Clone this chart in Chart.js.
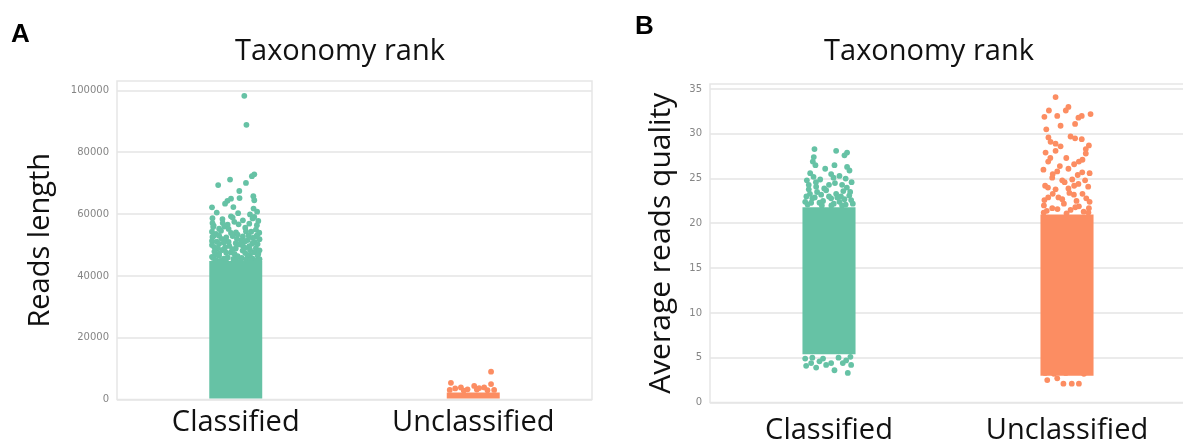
<!DOCTYPE html>
<html>
<head>
<meta charset="utf-8">
<script src="https://cdn.jsdelivr.net/npm/chart.js@4.4.1/dist/chart.umd.min.js"></script>
<style>
  body { margin: 0; background: #fff; }
  #page { position: relative; width: 1183px; height: 443px; overflow: hidden; }
  .panel { position: absolute; top: 0; }
  .title { position: absolute; top: 34px; transform: translateX(-50%); font-family: 'Open Sans'; font-size: 29px; line-height: 1; color: #111; white-space: nowrap; }
  .tag { position: absolute; font-family: 'Liberation Sans'; font-weight: bold; font-size: 26px; line-height: 1; color: #000; }
</style>
</head>
<body>
<div id="page">
  <canvas id="chartA" class="panel" style="left:0" width="600" height="443"></canvas>
  <canvas id="chartB" class="panel" style="left:600px" width="590" height="443"></canvas>
  <div class="tag" style="left:11px;top:20px">A</div>
  <div class="tag" style="left:635px;top:12px">B</div>
  <div class="title" style="left:340px">Taxonomy rank</div>
  <div class="title" style="left:929px">Taxonomy rank</div>
</div>
<script>
const categories = ['Classified', 'Unclassified'];
const lengthTicks = [0, 20000, 40000, 60000, 80000, 100000];
const qualityTicks = [0, 5, 10, 15, 20, 25, 30, 35];

// solid part of each strip, [low, high]
const lengthCore = [[0, 44800], [0, 2300]];
const qualityCore = [[5.4, 21.8], [3.0, 21.0]];

// loose points around the solid part: [jitter, value]
const lengthClassified = [
  [0.036, 98300], [0.045, 88900],
  [0.078, 72900], [0.068, 72300], [-0.024, 71200], [0.043, 70100], [-0.074, 69400],
  [0.015, 67500], [0.074, 65800], [0.016, 65200], [-0.020, 65000], [0.078, 64500], [-0.035, 64300], [-0.045, 63400],
  [-0.010, 62300], [-0.100, 62200], [0.075, 61800], [0.060, 59900], [-0.020, 59300], [0.078, 59100],
  [-0.080, 60500], [0.090, 60800], [0.010, 60300],
  [-0.098, 58700], [-0.056, 58400], [-0.013, 58900], [0.071, 58600], [0.095, 57800], [0.030, 58000],
  [-0.098, 57100], [-0.055, 57100], [-0.006, 57500], [0.089, 56400], [-0.093, 56300], [-0.034, 56600], [0.057, 56900],
  [-0.095, 55800], [-0.048, 56000], [0.012, 56700], [0.085, 55000], [-0.030, 55200], [0.040, 55600], [-0.070, 55300],
  [-0.100, 54300], [-0.062, 54600], [0.001, 54100], [0.043, 54400], [0.099, 54000], [-0.020, 53900], [0.065, 54300],
  [-0.083, 53600], [0.008, 53400], [0.054, 53100], [-0.040, 52500], [-0.070, 53000], [0.030, 52800], [0.090, 53200],
  [-0.092, 53000], [0.085, 52700],
  [-0.098, 52600], [-0.048, 51800], [-0.013, 52900], [0.022, 51500], [0.071, 52300], [0.100, 51900],
  [-0.060, 52000], [0.005, 52000], [0.050, 51600], [-0.100, 51300],
  [-0.080, 51100], [-0.030, 51000], [0.040, 51200], [0.080, 50900], [-0.050, 50800], [0.000, 50600], [0.070, 50500],
  [-0.100, 50000], [-0.070, 50400], [-0.027, 49700], [0.015, 50200], [0.057, 49600], [0.092, 50300], [0.030, 49800],
  [-0.075, 49000], [-0.045, 49200], [0.000, 48900], [0.040, 49100], [0.085, 49000], [-0.090, 49300],
  [-0.090, 47900], [-0.056, 48400], [-0.020, 47600], [0.029, 48200], [0.078, 47700], [0.100, 48300],
  [-0.015, 48700], [0.060, 48500],
  [-0.085, 47000], [-0.005, 47100], [0.060, 46900], [0.095, 47200], [-0.070, 47300], [-0.040, 47500], [0.040, 47400],
  [-0.100, 46200], [-0.070, 46500], [-0.034, 46000], [0.008, 46400], [0.050, 46100], [0.092, 46600],
  [-0.050, 45600], [0.025, 45800], [0.070, 45700], [-0.095, 45800], [-0.010, 45500], [0.100, 45400],
  [-0.084, 45200], [-0.041, 45400], [0.001, 45100], [0.043, 45300], [0.085, 45000],
  [-0.065, 44900], [0.020, 44800], [0.060, 45000]
];
const lengthUnclassified = [
  [-0.094, 5400], [0.075, 9000], [0.075, 5000], [-0.052, 3900], [0.004, 4400], [0.046, 3900],
  [-0.076, 3600], [-0.024, 3300], [0.025, 3700], [0.088, 3100], [-0.099, 3100], [0.060, 3000],
  [-0.040, 2900], [0.015, 3200]
];
const qualityClassified = [
  [-0.061, 28.3], [0.030, 28.1], [0.076, 27.9], [0.065, 27.6], [-0.064, 27.4], [-0.068, 26.9],
  [-0.057, 26.5], [0.023, 26.5], [-0.016, 26.1], [0.076, 26.3], [0.086, 25.9], [-0.079, 25.6],
  [0.009, 25.5], [0.044, 25.3], [-0.093, 24.8], [-0.037, 24.9], [0.019, 25.1], [0.000, 24.3],
  [-0.054, 24.1], [0.055, 24.3], [-0.085, 23.8], [-0.012, 23.7], [0.089, 23.5], [0.030, 23.3],
  [-0.033, 23.2], [-0.070, 22.8], [0.009, 22.8], [0.093, 22.6], [-0.100, 22.4], [0.044, 22.4],
  [-0.090, 22.1], [-0.040, 22.3], [0.020, 22.2], [0.070, 22.1], [-0.060, 22.9], [0.050, 23.0],
  [-0.020, 23.9], [0.075, 24.0], [0.100, 22.2], [-0.080, 23.3], [0.065, 22.7], [-0.050, 23.5],
  [-0.095, 23.0], [-0.025, 22.5], [0.035, 22.9], [0.085, 23.1], [-0.075, 22.3], [0.000, 23.0],
  [0.060, 23.6], [-0.055, 24.6], [0.025, 24.5], [-0.085, 24.3], [0.095, 24.6], [0.010, 22.0],
  [-0.030, 22.0], [0.055, 22.0], [-0.065, 25.2], [0.070, 25.0],
  [0.079, 3.3], [0.023, 3.6], [-0.054, 3.9], [-0.096, 4.1], [-0.075, 4.4], [-0.012, 4.2],
  [0.058, 4.4], [0.093, 4.2], [-0.040, 4.6], [-0.100, 4.9], [0.072, 4.7], [0.009, 4.4],
  [-0.070, 5.0], [0.040, 5.0], [-0.025, 4.9], [0.090, 5.1]
];
const qualityUnclassified = [
  [-0.048, 34.1], [0.006, 33.0], [-0.005, 32.6], [-0.076, 32.6], [0.099, 32.2], [-0.095, 31.9],
  [-0.041, 32.0], [0.062, 32.0], [0.048, 31.8], [0.034, 31.1], [-0.027, 30.9], [-0.087, 30.5],
  [0.015, 29.7], [0.034, 29.5], [-0.078, 29.6], [0.062, 29.4], [-0.069, 29.1], [-0.048, 28.9],
  [0.092, 28.7], [-0.027, 28.6], [0.079, 28.3], [-0.090, 27.9], [-0.048, 28.1], [0.079, 27.8],
  [-0.003, 27.3], [-0.079, 26.9], [0.050, 26.9], [-0.099, 26.0], [0.006, 26.1], [-0.041, 25.8],
  [0.064, 25.7], [-0.062, 25.1], [0.022, 24.9], [0.076, 24.8], [-0.020, 24.8], [-0.092, 24.2],
  [-0.048, 23.8], [0.006, 23.9], [0.048, 24.4], [0.089, 24.1], [0.029, 23.2], [-0.036, 22.9],
  [-0.079, 22.9], [0.081, 22.8], [-0.097, 22.0], [-0.013, 22.2], [0.050, 21.9], [0.092, 21.7],
  [-0.062, 21.7], [0.015, 21.5],
  [-0.085, 21.4], [-0.040, 21.6], [0.035, 21.8], [0.070, 21.3], [-0.095, 22.6], [-0.020, 22.7],
  [0.040, 22.5], [0.095, 22.4], [-0.060, 23.3], [0.010, 23.4], [0.065, 23.3], [-0.080, 24.0],
  [-0.010, 24.6], [0.030, 24.2], [-0.060, 25.5], [0.045, 25.4], [0.095, 25.6], [-0.030, 26.4],
  [0.030, 26.6], [-0.070, 27.3], [0.065, 27.1], [0.090, 21.2], [-0.002, 21.1], [-0.098, 21.2],
  [-0.083, 2.5], [-0.041, 2.7], [-0.015, 2.1], [0.020, 2.1], [0.050, 2.1], [0.043, 3.6],
  [-0.005, 3.3], [-0.055, 3.2], [-0.092, 3.3], [0.071, 3.2]
];

const colors = ['#66c2a5', '#fc8d62'];

// light box round the plot area
const frame = {
  id: 'frame',
  beforeDatasetsDraw(chart) {
    const { ctx, chartArea: a } = chart;
    ctx.save();
    ctx.strokeStyle = '#e6e6e6';
    ctx.lineWidth = 1.5;
    ctx.strokeRect(a.left, a.top, a.right - a.left, a.bottom - a.top);
    ctx.restore();
  }
};

function toPoints(list, cat) {
  return list.map(p => ({ x: cat + p[0], y: p[1] }));
}

function stripChart(id, opts) {
  return new Chart(document.getElementById(id), {
    type: 'scatter',
    data: {
      datasets: [
        {
          type: 'bar',
          data: opts.core.map((r, i) => ({ x: i, y: r })),
          backgroundColor: colors,
          barPercentage: 0.223,
          categoryPercentage: 1
        },
        { data: toPoints(opts.points[0], 0), pointBackgroundColor: colors[0], pointRadius: 2.9, pointBorderWidth: 0 },
        { data: toPoints(opts.points[1], 1), pointBackgroundColor: colors[1], pointRadius: 2.9, pointBorderWidth: 0 }
      ]
    },
    options: {
      responsive: false,
      animation: false,
      layout: { padding: opts.padding },
      plugins: { legend: { display: false }, tooltip: { enabled: false } },
      scales: {
        x: {
          type: 'linear', min: -0.5, max: 1.5, offset: false,
          afterBuildTicks: s => { s.ticks = categories.map((c, i) => ({ value: i })) },
          afterFit: s => { s.height = opts.xHeight },
          grid: { display: false, drawTicks: false },
          border: { display: false },
          ticks: {
            callback: v => categories[v],
            padding: opts.xPad, maxRotation: 0, autoSkip: false, color: '#111',
            font: { family: 'Open Sans', size: 29 }
          }
        },
        y: {
          min: 0, max: opts.max,
          afterBuildTicks: s => { s.ticks = opts.ticks.map(v => ({ value: v })) },
          afterFit: s => { s.width = opts.yWidth },
          grid: { color: '#ebebeb', lineWidth: 2, drawTicks: false },
          border: { display: false },
          ticks: {
            padding: 8, color: '#858585',
            font: { family: 'DejaVu Sans', size: 10 },
            callback: v => String(v)
          },
          title: {
            display: true, text: opts.label, color: '#111',
            font: { family: 'Open Sans', size: opts.labelSize },
            padding: { top: opts.labelPad, bottom: 0 }
          }
        }
      }
    },
    plugins: [frame]
  });
}

stripChart('chartA', {
  core: lengthCore,
  points: [lengthClassified, lengthUnclassified],
  ticks: lengthTicks,
  max: 103100,
  label: 'Reads length',
  labelSize: 29,
  labelPad: 23.6,
  padding: { top: 81, right: 8, left: 0, bottom: 0 },
  xHeight: 43.5,
  xPad: 6,
  yWidth: 117
});

stripChart('chartB', {
  core: qualityCore,
  points: [qualityClassified, qualityUnclassified],
  ticks: qualityTicks,
  max: 35.56,
  label: 'Average reads quality',
  labelSize: 30,
  labelPad: 43,
  padding: { top: 84, right: 3, left: 0, bottom: 0 },
  xHeight: 40.5,
  xPad: 11,
  yWidth: 110
});
</script>
</body>
</html>
